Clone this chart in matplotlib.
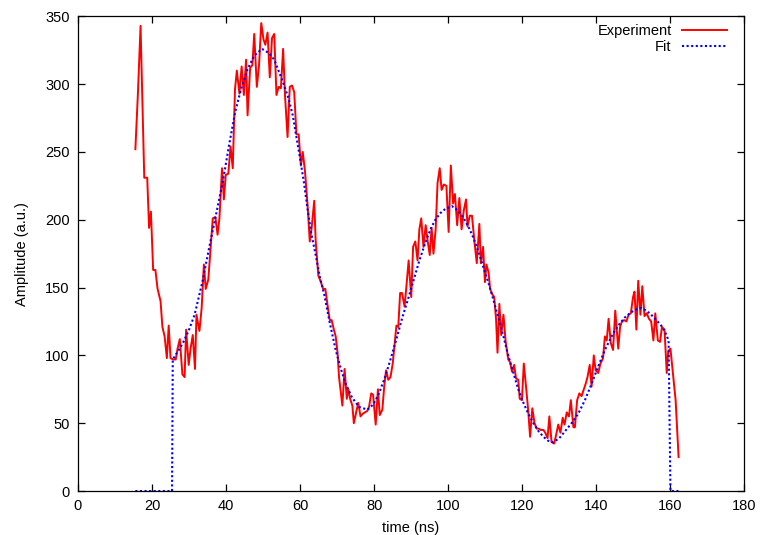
import matplotlib
matplotlib.use("Agg")
import matplotlib.pyplot as plt

plt.rcParams['font.family'] = ['Liberation Sans', 'DejaVu Sans']

# measured trace (time in ns, amplitude in a.u.)
exp_t = [
    15.5, 16.2, 16.9, 17.9, 18.7, 19.2, 19.7, 20.3, 20.9, 21.5, 22.3, 22.8, 23.4, 24.0, 24.5,
    25.0, 25.7, 26.4, 26.9, 27.5, 28.2, 28.8, 29.2, 29.9, 30.4, 31.0, 31.6, 32.0, 32.8, 33.4,
    34.0, 34.5, 35.2, 35.8, 36.4, 37.1, 37.7, 38.2, 38.9, 39.4, 39.9, 40.6, 41.2,
    41.8, 42.4, 42.9, 43.6, 44.2, 44.8, 45.4, 45.8, 46.5, 47.1, 47.6, 48.3, 48.9, 49.5, 50.1,
    50.6, 51.2, 51.8, 52.4, 53.0, 53.6, 54.2, 54.8, 55.4, 55.9, 56.6, 57.2, 57.8, 58.4, 59.0,
    59.6, 60.2, 60.7, 61.3, 62.0, 62.6, 63.1, 63.8, 64.2, 64.9, 65.6, 66.2, 66.8, 67.4, 68.0,
    68.5, 69.1,
    69.6, 70.1, 70.5, 71.4, 72.0, 72.6, 73.0, 73.5, 74.1, 74.5, 75.2, 75.7, 76.3, 76.9, 77.5,
    78.1, 78.6, 79.2, 79.7, 80.4, 81.0, 81.5, 82.2, 82.7, 83.2, 83.8, 84.4, 85.0, 85.6, 86.0,
    86.5, 87.0, 87.5, 88.2, 88.7, 89.3, 90.0, 90.5, 91.1, 91.7, 92.2, 92.7, 93.3, 93.9, 94.4,
    95.0, 95.5, 96.0, 96.6, 97.1, 97.7, 98.2, 98.8,
    99.5, 100.1, 100.7, 101.3, 101.8, 102.4, 103.0, 103.6, 104.2, 104.8, 105.2, 105.8, 106.4,
    107.1, 107.7, 108.4, 108.8, 109.4, 109.9, 110.3, 110.9, 111.3, 111.9, 112.4, 112.9, 113.3,
    113.8, 114.3, 114.9, 115.5, 116.2, 116.7, 117.2, 117.8, 118.3, 118.9, 119.3, 119.9, 120.4,
    121.0, 121.6, 122.1, 122.7, 123.3, 123.9, 124.5, 125.0, 125.7, 126.2, 126.8, 127.3,
    127.9, 128.6, 129.1, 129.7, 130.3, 130.9, 131.4, 132.0, 132.6, 133.1, 133.8, 134.2, 134.8,
    135.4, 136.0, 136.6, 137.1, 137.6, 138.2, 138.7, 139.3, 139.8, 140.5, 141.1, 141.8, 142.3,
    142.8, 143.3, 143.9, 144.5, 145.1, 145.9, 146.4, 146.9, 147.5, 148.1, 148.7, 149.3, 149.9,
    150.3, 150.8, 151.3, 151.9, 152.4, 153.0, 153.6, 154.2, 154.8, 155.4, 155.9, 156.6, 157.2,
    157.7, 158.4, 159.0, 159.4, 160.0, 160.6, 161.4, 162.2,
]
exp_amp = [
    252, 294, 343, 231, 231, 194, 206, 163, 163, 149, 140, 121, 114, 98, 122,
    98, 97, 97, 105, 112, 86, 84, 119, 93, 105, 115, 90, 130, 118, 135,
    167, 149, 156, 179, 201, 202, 189, 201, 238, 215, 233, 234, 254,
    238, 296, 310, 293, 313, 292, 318, 277, 312, 314, 337, 298, 314, 345, 333,
    329, 338, 305, 334, 337, 292, 298, 297, 326, 292, 261, 298, 299, 294, 263,
    263, 240, 250, 236, 211, 184, 194, 214, 184, 159, 154, 149, 149, 137, 126,
    126, 119,
    114, 102, 84, 63, 90, 68, 75, 68, 63, 50, 59, 65, 55, 57, 58,
    59, 62, 72, 71, 49, 75, 56, 60, 77, 89, 82, 84, 94, 111, 122,
    121, 146, 146, 136, 151, 170, 143, 180, 184, 170, 193, 201, 180, 196, 185,
    174, 194, 175, 193, 227, 238, 222, 226,
    225, 191, 240, 212, 219, 196, 216, 193, 207, 215, 195, 203, 203,
    183, 168, 197, 168, 180, 154, 167, 161, 149, 145, 143, 127, 102,
    138, 115, 130, 110, 97, 95, 88, 93, 83, 82, 68, 67, 94,
    77, 59, 40, 61, 50, 46, 46, 45, 45, 43, 39, 55,
    36, 35, 41, 49, 43, 54, 49, 58, 55, 67, 47, 47, 67,
    72, 70, 75, 79, 84, 93, 77, 100, 89, 87, 94, 98, 114,
    111, 127, 109, 104, 133, 105, 121, 125, 126, 125, 130, 131, 143,
    147, 119, 155, 130, 151, 129, 131, 127, 125, 111, 131, 111, 110,
    121, 119, 87, 103, 105, 89, 67, 25,
]

# fitted curve (zero outside the fit window)
fit_t = [
    15.5, 25.4, 25.6, 27.0, 28.5, 30.0, 31.5, 33.5, 35.4, 37.3, 39.1, 40.8, 42.5, 44.1, 45.8,
    47.6, 49.7, 51.5, 53.0, 55.3, 56.8, 58.0, 59.8, 61.0, 62.0, 63.0, 64.2, 65.3, 66.5, 68.0,
    69.6, 71.0, 72.3, 74.0, 75.9, 78.2, 79.8, 81.3, 82.8, 84.4, 86.0, 87.6, 89.2, 90.7, 92.2,
    93.8, 95.2, 96.5, 97.9, 99.2, 101.0, 102.6, 104.2, 105.6, 106.9, 108.2, 109.5, 110.9, 112.2,
    113.5, 114.9, 116.2, 117.6, 118.9, 120.3, 121.6, 123.0, 124.4, 125.7, 127.0, 128.4, 130.0,
    131.5, 133.3, 135.1, 136.9, 138.7, 140.5, 142.3, 144.1, 145.9, 147.7, 149.5, 150.9, 152.2,
    153.5, 154.8, 156.2, 157.5, 158.6, 159.5, 160.0, 162.2,
]
fit_amp = [
    0, 0, 97, 103, 110, 119, 130, 153, 179, 204, 228, 255, 280, 297, 311,
    321, 326, 323, 318, 302, 290, 277, 248, 228, 208, 190, 174, 158, 145, 124,
    104, 90, 79, 69, 62, 60, 64, 72, 83, 97, 112, 128, 142, 156, 170,
    183, 193, 200, 205, 208, 210, 207, 201, 194, 186, 176, 165, 153, 141,
    128, 114, 100, 87, 75, 65, 57, 50, 44, 40, 37, 36, 39,
    44, 50, 57, 67, 79, 92, 104, 114, 122, 128, 132, 134, 135,
    133, 130, 126, 122, 117, 111, 0, 0,
]

assert len(exp_t) == len(exp_amp)
assert len(fit_t) == len(fit_amp)

x_ticks = [0, 20, 40, 60, 80, 100, 120, 140, 160, 180]
y_ticks = [0, 50, 100, 150, 200, 250, 300, 350]

fig = plt.figure(figsize=(7.6, 5.35), dpi=100)
ax = fig.add_axes([0.1026, 0.0822, 0.8770, 0.8873])

ax.plot(exp_t, exp_amp, color='#ff0000', lw=1.4, label='Experiment')
ax.plot(fit_t, fit_amp, color='#0000ff', lw=1.5, linestyle=(0, (1, 1.2)), label='Fit')

ax.set_xlim(0, 180)
ax.set_ylim(0, 350)
ax.set_xticks(x_ticks)
ax.set_yticks(y_ticks)
ax.tick_params(direction='in', top=True, right=True, length=5, width=0.9,
               labelsize=10.5, pad=6)
for sp in ax.spines.values():
    sp.set_linewidth(0.9)

ax.set_xlabel('time (ns)', fontsize=10.5)
ax.set_ylabel('Amplitude (a.u.)', fontsize=10.5)
ax.xaxis.set_label_coords(0.4994, -0.063)
ax.yaxis.set_label_coords(-0.074, 0.50)

ax.legend(loc='upper right', bbox_to_anchor=(0.974, 0.983), frameon=False,
          markerfirst=False, fontsize=10.5, handlelength=3.1, handletextpad=0.7,
          labelspacing=0.12, borderpad=0, borderaxespad=0)

fig.savefig('out.png', dpi=100)
